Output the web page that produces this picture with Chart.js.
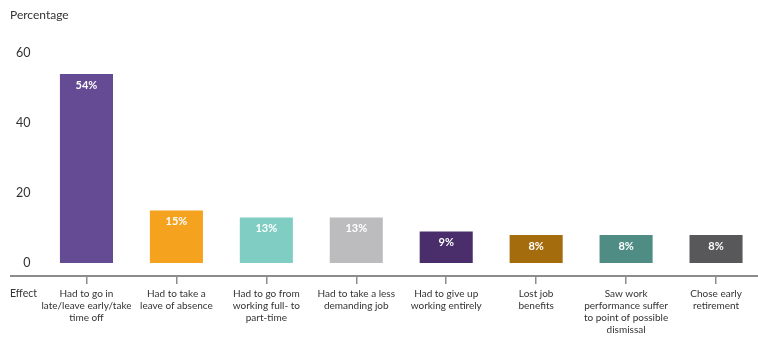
<!DOCTYPE html>
<html>
<head>
<meta charset="utf-8">
<script src="https://cdn.jsdelivr.net/npm/chart.js@4.4.0/dist/chart.umd.min.js"></script>
<style>
    html, body { margin: 0; padding: 0; background: #fff; overflow: hidden; }
    #wrap { position: relative; width: 762px; height: 342px; }
</style>
</head>
<body>
<div id="wrap"><canvas id="effectChart"></canvas></div>
<script>
// --- DATA ---
const categories = [
    ['Had to go in', 'late/leave early/take', 'time off'],
    ['Had to take a', 'leave of absence'],
    ['Had to go from', 'working full- to', 'part-time'],
    ['Had to take a less', 'demanding job'],
    ['Had to give up', 'working entirely'],
    ['Lost job', 'benefits'],
    ['Saw work', 'performance suffer', 'to point of possible', 'dismissal'],
    ['Chose early', 'retirement']
];
const percentages = [54, 15, 13, 13, 9, 8, 8, 8];
const barColors = ['#654a94', '#f5a21f', '#80cdc3', '#bcbcbf', '#4a2e6c', '#a56c0e', '#4f8d84', '#58585a'];
const yTicks = [0, 20, 40, 60];

const FONT = 'Lato, "Open Sans", sans-serif';
const AXIS_GREY = '#8c8c8c';

// Extra text + long axis line, drawn on the canvas
const decorPlugin = {
    id: 'decor',
    afterDraw(chart) {
        const ctx = chart.ctx;
        const area = chart.chartArea;
        ctx.save();
        // axis line running under "Effect"
        ctx.strokeStyle = AXIS_GREY;
        ctx.lineWidth = 2;
        ctx.beginPath();
        ctx.moveTo(10, area.bottom);
        ctx.lineTo(chart.width, area.bottom);
        ctx.stroke();

        ctx.fillStyle = '#333';
        ctx.textBaseline = 'middle';
        ctx.textAlign = 'left';
        ctx.font = '12px ' + FONT;
        ctx.fillText('Percentage', 10, 15);
        ctx.font = '10.5px ' + FONT;
        ctx.fillText('Effect', 10, 294);

        // value labels inside bars
        const meta = chart.getDatasetMeta(0);
        ctx.fillStyle = '#fff';
        ctx.font = 'bold 11px ' + FONT;
        ctx.textAlign = 'center';
        meta.data.forEach((bar, i) => {
            ctx.fillText(percentages[i] + '%', bar.x, bar.y + 11);
        });
        ctx.restore();
    }
};

new Chart(document.getElementById('effectChart'), {
    type: 'bar',
    data: {
        labels: categories,
        datasets: [{
            data: percentages,
            backgroundColor: barColors,
            barPercentage: 0.59,
            categoryPercentage: 1
        }]
    },
    options: {
        responsive: true,
        maintainAspectRatio: false,
        animation: false,
        layout: { padding: { top: 46, right: 1, left: 0, bottom: 0 } },
        plugins: { legend: { display: false }, tooltip: { enabled: false } },
        scales: {
            x: {
                afterFit: (scale) => { scale.height = 66; },
                border: { display: false },
                grid: {
                    offset: false,
                    drawOnChartArea: false,
                    drawTicks: true,
                    tickLength: 8,
                    color: AXIS_GREY,
                    lineWidth: 1.5
                },
                ticks: {
                    color: '#333',
                    font: { family: FONT, size: 10, lineHeight: 1.2 },
                    padding: 4,
                    maxRotation: 0,
                    autoSkip: false
                }
            },
            y: {
                min: -3.7,
                max: 62,
                afterFit: (scale) => { scale.width = 41.5; },
                afterBuildTicks: (scale) => { scale.ticks = yTicks.map(v => ({ value: v })); },
                border: { display: false },
                grid: { display: false, drawTicks: false },
                ticks: {
                    color: '#333',
                    font: { family: FONT, size: 12.5 },
                    padding: 11
                }
            }
        }
    },
    plugins: [decorPlugin]
});
</script>
</body>
</html>
